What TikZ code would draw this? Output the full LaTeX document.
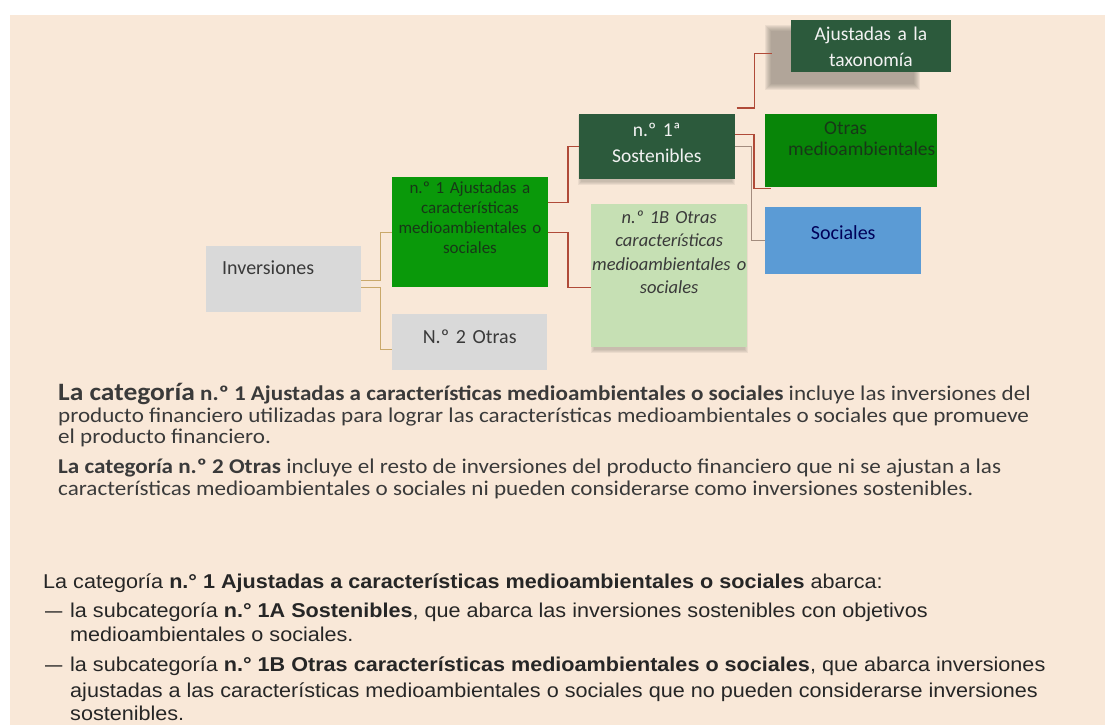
\documentclass[tikz,border=0pt]{standalone}
\usepackage{fontspec}
\setmainfont{Carlito}
\newfontfamily\parafont[FakeStretch=1.10]{Carlito}
\newfontfamily\arialf[FakeStretch=1.08]{Liberation Sans}
\usetikzlibrary{calc}
\definecolor{bg}{HTML}{F9E8D8}
\definecolor{grayb}{HTML}{D9D9D9}
\definecolor{greenA}{HTML}{0A990A}
\definecolor{greenB}{HTML}{088508}
\definecolor{darkg}{HTML}{2C5A3C}
\definecolor{blueb}{HTML}{5B9BD5}
\definecolor{lightg}{HTML}{C6E0B4}
\definecolor{tanline}{HTML}{C9A86A}
\definecolor{redline}{HTML}{B04A38}
\definecolor{greyline}{HTML}{A38C7E}
\definecolor{txt}{HTML}{3A3A3A}
\definecolor{atxt}{HTML}{262626}
\definecolor{shadowc}{HTML}{7D746C}
\definecolor{ntxt}{HTML}{173817}
\newcommand{\softshadow}[5]{%
  \foreach \i in {0,...,#5}{\fill[shadowc,opacity=0.11] (#1-\i,#2-\i) rectangle (#3+\i,#4+\i);}}
\newcommand{\itemdash}{\makebox[25pt][l]{\scalebox{0.8}[1]{—}}}
\begin{document}
\begin{tikzpicture}[x=1pt,y=-1pt,
  box/.style={anchor=north west, inner sep=0pt, align=center},
  conn/.style={line width=1.2pt},
  para/.style={anchor=base west, inner sep=0pt, text=txt, font=\parafont\fontsize{21}{24}\selectfont},
  apara/.style={anchor=base west, inner sep=0pt, text=atxt, font=\arialf\fontsize{20}{24}\selectfont}]
\useasboundingbox (0,0) rectangle (1105,725);
\fill[white] (0,0) rectangle (1105,725);
\fill[bg] (10,15) rectangle (1105,725);
% shadows
\softshadow{771}{31}{914}{84}{6}
\softshadow{581}{118}{732}{182}{3}
\softshadow{594}{208}{745}{350}{3}
% boxes
\node[box, fill=grayb, text=txt, align=left, text width=155pt, text height=28pt, text depth=38pt,
  font=\fontsize{20}{24}\selectfont] (inv) at (206,246) {\hspace*{16pt}Inversiones};
\node[box, fill=greenA, text=ntxt, text width=155.5pt, text height=16pt, text depth=94pt,
  font=\fontsize{17}{20}\selectfont] (n1) at (392,177)
  {n.º 1 Ajustadas a\\ características\\ medioambientales o\\ sociales};
\node[box, fill=grayb, text=txt, text width=155pt, text height=29pt, text depth=27pt,
  font=\fontsize{20}{24}\selectfont] (n2) at (392,314) {N.º 2 Otras};
\node[box, fill=darkg, text=white!95!black, text width=156pt, text height=22pt, text depth=43pt,
  font=\fontsize{19.5}{26}\selectfont] (sost) at (578.6,114) {n.º 1ª\\ Sostenibles};
\node[box, fill=darkg, text=white!95!black, text width=160.5pt, text height=20pt, text depth=32pt,
  font=\fontsize{19.5}{26}\selectfont] (tax) at (790.5,20) {Ajustadas a la\\ taxonomía};
\node[box, fill=greenB, text=ntxt, align=left, text width=172pt, text height=20pt, text depth=53pt,
  font=\fontsize{19.5}{21}\selectfont] (otras) at (765,114)
  {\hspace*{59pt}Otras\\ \hspace*{23pt}medioambientales};
\node[box, fill=blueb, text=blue!35!black, text width=156pt, text height=32pt, text depth=35pt,
  font=\fontsize{20}{24}\selectfont] (soc) at (765,207) {Sociales};
\node[box, fill=lightg, text=txt, text width=156pt, text height=19pt, text depth=124pt,
  font=\itshape\fontsize{18.5}{23.5}\selectfont] (b1) at (591,204)
  {n.º 1B Otras\\ características\\ medioambientales o\\ sociales};
% connectors
\draw[conn,tanline] ([yshift=-1pt]inv.east) -- ++(19,0) |- (n1.west);
\draw[conn,tanline] ([yshift=-8pt]inv.east) -- ++(19,0) |- ([yshift=-7pt]n2.west);
\draw[conn,redline] ([yshift=30pt]n1.east) -- ++(20,0) |- (sost.west);
\draw[conn,redline] (n1.east) -- ++(20,0) |- ([yshift=-11.5pt]b1.west);
\coordinate (taxend) at ([xshift=-18.5pt,yshift=-7pt]tax.west);
\draw[conn,redline] ([xshift=1.5pt,yshift=6pt]sost.north east) -- ++(18,0) |- (taxend);
\coordinate (otrasend) at ([xshift=6pt,yshift=-1pt]otras.south west);
\draw[conn,redline] ([yshift=12.5pt]sost.east) -- ++(19,0) |- (otrasend);
\draw[conn,greyline] (sost.east) -- ++(16.5,0) |- (soc.west);
% paragraph 1
\node[para] (p1) at (58,400) {{\fontsize{25}{30}\selectfont\bfseries La categoría} {\bfseries n.º 1 Ajustadas a características medioambientales o sociales} incluye las inversiones del};
\node[para] (p2) at (58,422) {producto financiero utilizadas para lograr las características medioambientales o sociales que promueve};
\node[para] (p3) at (58,443) {el producto financiero.};
\node[para] (p4) at (58,473) {{\bfseries La categoría n.º 2 Otras} incluye el resto de inversiones del producto financiero que ni se ajustan a las};
\node[para] (p5) at (58,495) {características medioambientales o sociales ni pueden considerarse como inversiones sostenibles.};
% paragraph 2
\node[apara] (a1) at (43,588) {La categoría {\bfseries n.° 1 Ajustadas a características medioambientales o sociales} abarca:};
\node[apara] (a2) at (45,617) {\itemdash la subcategoría {\bfseries n.° 1A Sostenibles}, que abarca las inversiones sostenibles con objetivos};
\node[apara] (a3) at (70,641) {medioambientales o sociales.};
\node[apara] (a4) at (45,671) {\itemdash la subcategoría {\bfseries n.° 1B Otras características medioambientales o sociales}, que abarca inversiones};
\node[apara] (a5) at (70,697) {ajustadas a las características medioambientales o sociales que no pueden considerarse inversiones};
\node[apara] (a6) at (70,720) {sostenibles.};
\end{tikzpicture}
\end{document}
